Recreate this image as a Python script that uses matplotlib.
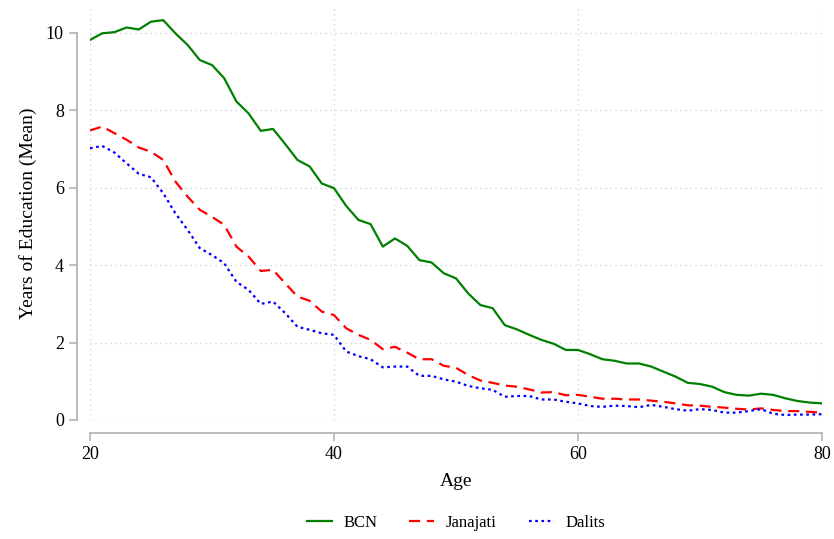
# import libraries
import numpy as np
import matplotlib
matplotlib.use("Agg")
import matplotlib.pyplot as plt

# mean years of education by age, three caste/ethnic groups
ages = np.arange(20, 81)

bcn = [9.82, 9.99, 10.02, 10.14, 10.09, 10.29, 10.33, 9.99, 9.69, 9.30,
       9.17, 8.83, 8.23, 7.92, 7.47, 7.52, 7.13, 6.72, 6.55, 6.11,
       5.99, 5.53, 5.17, 5.06, 4.48, 4.69, 4.50, 4.13, 4.07, 3.79,
       3.66, 3.27, 2.97, 2.89, 2.45, 2.34, 2.20, 2.07, 1.97, 1.81,
       1.81, 1.70, 1.57, 1.53, 1.46, 1.46, 1.38, 1.25, 1.12, 0.96,
       0.93, 0.86, 0.72, 0.65, 0.63, 0.68, 0.65, 0.56, 0.49, 0.45,
       0.43]

janajati = [7.48, 7.58, 7.41, 7.24, 7.04, 6.93, 6.72, 6.16, 5.77, 5.43,
            5.25, 5.04, 4.48, 4.22, 3.85, 3.88, 3.53, 3.19, 3.08, 2.80,
            2.71, 2.37, 2.20, 2.07, 1.83, 1.89, 1.74, 1.57, 1.57, 1.40,
            1.35, 1.16, 1.02, 0.96, 0.89, 0.86, 0.79, 0.71, 0.72, 0.64,
            0.65, 0.60, 0.55, 0.55, 0.53, 0.53, 0.50, 0.47, 0.43, 0.38,
            0.37, 0.34, 0.32, 0.29, 0.27, 0.30, 0.26, 0.23, 0.23, 0.21,
            0.19]

dalits = [7.02, 7.08, 6.91, 6.63, 6.36, 6.27, 5.86, 5.34, 4.91, 4.44,
          4.26, 4.05, 3.57, 3.36, 3.00, 3.06, 2.76, 2.41, 2.33, 2.24,
          2.20, 1.77, 1.65, 1.57, 1.36, 1.38, 1.38, 1.14, 1.14, 1.05,
          0.99, 0.88, 0.82, 0.78, 0.60, 0.62, 0.62, 0.53, 0.53, 0.47,
          0.43, 0.36, 0.34, 0.37, 0.36, 0.33, 0.39, 0.34, 0.28, 0.24,
          0.28, 0.26, 0.19, 0.19, 0.23, 0.28, 0.16, 0.13, 0.14, 0.14,
          0.15]

x_ticks = [20, 40, 60, 80]
y_ticks = [0, 2, 4, 6, 8, 10]

plt.rcParams['font.family'] = ['Liberation Serif', 'DejaVu Serif']

fig = plt.figure(figsize=(8.34, 5.39), dpi=100)
ax = fig.add_axes([90 / 834, 1 - 420 / 539, 732 / 834, 413 / 539])

ax.plot(ages, bcn, color='#008000', lw=1.6, label='BCN')
ax.plot(ages, janajati, color='red', lw=1.6, ls=(0, (5, 3)), label='Janajati')
ax.plot(ages, dalits, color='blue', lw=1.6, ls=(0, (1.2, 1.6)), label='Dalits')

ax.set_xlim(20, 80)
ax.set_ylim(0, 10.67)
ax.set_xticks(x_ticks)
ax.set_yticks(y_ticks)

# stata-like look: dotted grid, detached gray axes
ax.grid(True, color='#cfcfcf', ls=(0, (1, 3)), lw=0.9)
for side in ['top', 'right']:
    ax.spines[side].set_visible(False)
for side in ['left', 'bottom']:
    ax.spines[side].set_color('#b4b4b4')
    ax.spines[side].set_linewidth(1.3)
    ax.spines[side].set_position(('outward', 9.4))
ax.spines['left'].set_bounds(0, 10)
ax.spines['bottom'].set_bounds(20, 80)
ax.tick_params(colors='#b4b4b4', length=6, width=1.2, labelcolor='black',
               labelsize=13)

ax.set_xlabel('Age', fontsize=14, labelpad=7)
ax.set_ylabel('Years of Education (Mean)', fontsize=14, labelpad=6)

fig.legend(loc='center', bbox_to_anchor=(456 / 834, 1 - 523 / 539), ncol=3,
           frameon=False, fontsize=12, handlelength=1.5, handletextpad=0.7,
           columnspacing=1.9)

plt.savefig('out.png', dpi=100)
